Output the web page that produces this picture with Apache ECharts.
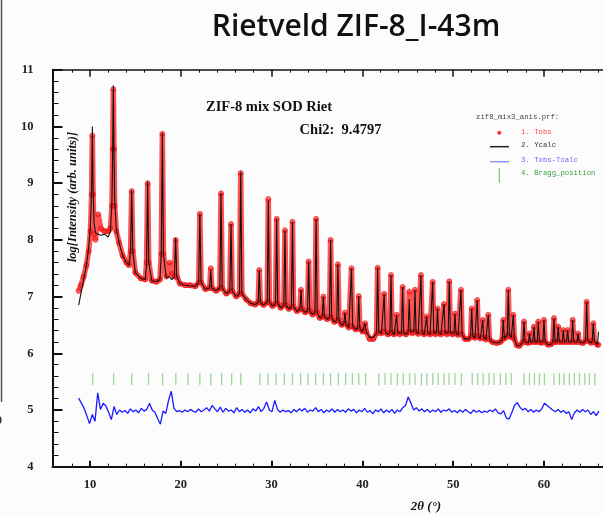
<!DOCTYPE html>
<html><head><meta charset="utf-8">
<script src="https://cdn.jsdelivr.net/npm/echarts@6/dist/echarts.min.js"></script>
<style>html,body{margin:0;padding:0;background:#fcfcfd;}#c{width:603px;height:515px;}</style>
</head><body><div id="c"></div>
<script>
// ---- data ----
const twoTheta = [
 8.75, 9.0, 9.3, 9.6, 9.85, 10.05, 10.18, 10.26, 10.34, 10.45, 10.6, 10.9, 11.2, 11.6, 12.0, 12.25, 12.42, 12.5, 12.57, 12.64, 12.72, 12.9,
 13.2, 13.6, 14.0, 14.3, 14.47, 14.59, 14.71, 15.0, 15.6, 16.1, 16.23, 16.35, 16.47, 16.8, 17.3, 17.7, 17.85, 17.97, 18.09, 18.4, 18.75, 19.0, 19.3, 19.43, 19.56, 19.9,
 20.5, 21.0, 21.6, 21.97, 22.1, 22.23, 22.7, 23.18, 23.3, 23.42, 23.9, 24.3, 24.43, 24.56, 25.0, 25.4, 25.53, 25.66, 26.1, 26.47, 26.6, 26.73, 27.2, 27.7, 28.2,
 28.52, 28.64, 28.76, 29.1, 29.52, 29.64, 29.76, 30.1, 30.44, 30.56, 30.68, 31.0, 31.35, 31.47, 31.59, 31.9, 32.18, 32.3, 32.42, 32.8,
 33.12, 33.24, 33.36, 33.7, 33.96, 34.08, 34.2, 34.5, 34.78, 34.9, 35.02, 35.3, 35.58, 35.7, 35.82, 36.1, 36.38, 36.5, 36.62, 36.9,
 37.18, 37.3, 37.42, 37.7, 37.96, 38.08, 38.2, 38.5, 38.68, 38.8, 38.92, 39.25, 39.48, 39.6, 39.72, 40.0, 40.18, 40.3, 40.42, 40.8,
 41.2, 41.56, 41.68, 41.8, 42.1, 42.28, 42.4, 42.52, 42.8, 43.03, 43.15, 43.27, 43.5, 43.65, 43.77, 43.89, 44.1, 44.31, 44.43, 44.55, 44.8,
 45.04, 45.16, 45.28, 45.5, 45.67, 45.79, 45.91, 46.15, 46.33, 46.45, 46.57, 46.8, 46.96, 47.08, 47.2, 47.45, 47.62, 47.74, 47.86, 48.05,
 48.15, 48.27, 48.39, 48.65, 48.87, 48.99, 49.11, 49.3, 49.45, 49.57, 49.69, 49.9, 50.08, 50.2, 50.32, 50.55, 50.74, 50.86, 50.98, 51.3, 51.7,
 51.92, 52.04, 52.16, 52.4, 52.53, 52.65, 52.77, 53.0, 53.13, 53.25,
 53.37, 53.6, 53.75, 53.87, 53.99, 54.3, 54.8, 55.2, 55.4, 55.52,
 55.64, 55.85, 55.95, 56.07, 56.19, 56.4, 56.5, 56.62, 56.74, 57.0,
 57.3, 57.68, 57.8, 57.92, 58.28, 58.4, 58.52, 58.78, 58.9, 59.02,
 59.25, 59.37, 59.49, 59.7, 59.88, 60.0, 60.12, 60.45, 60.8, 60.98,
 61.1, 61.22, 61.45, 61.57, 61.69, 62.01, 62.13, 62.25, 62.48, 62.6,
 62.72, 63.04, 63.16, 63.28, 63.64, 63.76, 63.88, 64.3, 64.58, 64.7,
 64.82, 65.2, 65.31, 65.43, 65.55, 65.9, 66.0
];
const yCalc = [
 6.85, 7.05, 7.3, 7.55, 7.85, 8.25, 8.9, 10.0, 8.9, 8.3, 8.12, 8.1, 8.08, 8.1, 8.05, 8.15, 8.7, 9.6, 10.72, 9.6, 8.7, 8.2,
 7.95, 7.72, 7.6, 7.55, 7.8, 8.88, 7.8, 7.42, 7.32, 7.3, 7.6, 9.03, 7.6, 7.28, 7.26, 7.3, 7.75, 9.89, 7.75, 7.33, 7.35, 7.3, 7.35, 8.03, 7.35, 7.23,
 7.2, 7.19, 7.18, 7.25, 8.46, 7.25, 7.13, 7.15, 7.47, 7.15, 7.1, 7.15, 8.82, 7.15, 7.05, 7.1, 8.28, 7.1, 7.0, 7.05, 9.2, 7.05, 6.95, 6.88, 6.86,
 6.9, 7.47, 6.9, 6.85, 6.9, 8.69, 6.9, 6.83, 6.88, 8.37, 6.88, 6.8, 6.85, 8.17, 6.85, 6.78, 6.82, 8.32, 6.82, 6.74,
 6.78, 7.12, 6.78, 6.72, 6.75, 7.62, 6.75, 6.68, 6.72, 8.37, 6.72, 6.62, 6.65, 7.0, 6.65, 6.6, 6.63, 8.0, 6.63, 6.55,
 6.58, 7.57, 6.58, 6.5, 6.52, 6.72, 6.52, 6.45, 6.48, 7.5, 6.48, 6.42, 6.44, 7.01, 6.44, 6.38, 6.4, 6.53, 6.38, 6.28,
 6.28, 6.35, 7.51, 6.38, 6.35, 6.38, 7.05, 6.38, 6.33, 6.36, 7.38, 6.36, 6.33, 6.36, 6.68, 6.36, 6.33, 6.36, 7.17, 6.36, 6.33,
 6.38, 6.95, 6.38, 6.35, 6.38, 7.12, 6.38, 6.34, 6.37, 7.38, 6.37, 6.33, 6.36, 6.65, 6.36, 6.33, 6.36, 7.26, 6.36, 6.33,
 6.36, 6.79, 6.36, 6.33, 6.36, 6.87, 6.36, 6.33, 6.36, 7.27, 6.36, 6.33, 6.35, 6.7, 6.35, 6.32, 6.35, 7.12, 6.33, 6.25, 6.25,
 6.3, 6.79, 6.3, 6.27, 6.3, 6.94, 6.3, 6.26, 6.28, 6.59,
 6.28, 6.24, 6.27, 6.68, 6.25, 6.2, 6.18, 6.2, 6.24, 6.59,
 6.26, 6.28, 6.32, 7.12, 6.32, 6.28, 6.3, 6.68, 6.25, 6.14,
 6.13, 6.2, 6.56, 6.2, 6.18, 6.35, 6.2, 6.2, 6.47, 6.2,
 6.2, 6.56, 6.2, 6.18, 6.2, 6.59, 6.2, 6.15, 6.16, 6.2,
 6.62, 6.2, 6.2, 6.47, 6.2, 6.2, 6.41, 6.2, 6.2, 6.41,
 6.2, 6.2, 6.59, 6.2, 6.2, 6.35, 6.2, 6.18, 6.22, 6.91,
 6.22, 6.18, 6.22, 6.53, 6.2, 6.15, 6.38
];
const yObs = [
 7.1, 7.2, 7.35, 7.55, 7.8, 8.15, 8.8, 9.84, 8.8, 8.1, 8.0, 8.45, 8.2, 8.15, 8.15, 8.2, 8.6, 9.6, 10.66, 9.6, 8.6, 8.15,
 7.95, 7.72, 7.6, 7.55, 7.8, 8.86, 7.8, 7.42, 7.32, 7.3, 7.6, 9.0, 7.6, 7.28, 7.26, 7.3, 7.75, 9.87, 7.75, 7.35, 7.6, 7.4, 7.35, 8.0, 7.35, 7.23,
 7.2, 7.2, 7.18, 7.25, 8.46, 7.25, 7.13, 7.15, 7.5, 7.15, 7.1, 7.15, 8.82, 7.15, 7.05, 7.1, 8.28, 7.1, 7.0, 7.05, 9.18, 7.05, 6.95, 6.88, 6.86,
 6.9, 7.47, 6.9, 6.85, 6.9, 8.72, 6.9, 6.83, 6.88, 8.37, 6.88, 6.8, 6.85, 8.17, 6.85, 6.78, 6.82, 8.32, 6.82, 6.74,
 6.78, 7.12, 6.78, 6.72, 6.75, 7.62, 6.75, 6.68, 6.72, 8.37, 6.72, 6.62, 6.65, 7.0, 6.65, 6.6, 6.63, 8.0, 6.63, 6.55,
 6.58, 7.57, 6.58, 6.5, 6.52, 6.72, 6.52, 6.45, 6.48, 7.5, 6.48, 6.42, 6.44, 7.01, 6.44, 6.38, 6.4, 6.53, 6.38, 6.25,
 6.25, 6.35, 7.51, 6.38, 6.35, 6.38, 7.05, 6.38, 6.33, 6.36, 7.38, 6.36, 6.33, 6.36, 6.68, 6.36, 6.33, 6.36, 7.17, 6.36, 6.33,
 6.38, 7.09, 6.38, 6.35, 6.38, 7.12, 6.38, 6.34, 6.37, 7.38, 6.37, 6.33, 6.36, 6.65, 6.36, 6.33, 6.36, 7.26, 6.36, 6.33,
 6.36, 6.79, 6.36, 6.33, 6.36, 6.87, 6.36, 6.33, 6.36, 7.27, 6.36, 6.33, 6.35, 6.7, 6.35, 6.32, 6.35, 7.12, 6.33, 6.25, 6.25,
 6.3, 6.79, 6.3, 6.27, 6.3, 6.94, 6.3, 6.26, 6.28, 6.59,
 6.28, 6.24, 6.27, 6.68, 6.25, 6.2, 6.18, 6.2, 6.24, 6.59,
 6.26, 6.28, 6.32, 7.12, 6.32, 6.28, 6.3, 6.68, 6.25, 6.14,
 6.13, 6.2, 6.56, 6.2, 6.18, 6.35, 6.2, 6.2, 6.47, 6.2,
 6.2, 6.56, 6.2, 6.18, 6.2, 6.59, 6.2, 6.15, 6.16, 6.2,
 6.62, 6.2, 6.2, 6.47, 6.2, 6.2, 6.41, 6.2, 6.2, 6.41,
 6.2, 6.2, 6.59, 6.2, 6.2, 6.35, 6.2, 6.18, 6.22, 6.91,
 6.22, 6.18, 6.22, 6.53, 6.2, 6.15, 6.15
];
// difference curve Tobs-Tcalc, sampled every 0.3 deg from 8.75
const diffStart = 8.75, diffStep = 0.3;
const diffY = [
 5.21, 5.12, 5.03, 4.9, 4.76, 4.92, 4.8, 5.3, 5.01, 5.12,
 5.07, 4.96, 4.83, 5.06, 4.92, 5.0, 4.96, 4.99, 4.94, 5.02,
 4.97, 5.0, 4.95, 5.03, 4.98, 5.01, 5.12, 5.0, 4.96, 4.85,
 4.75, 4.98, 4.94, 5.17, 5.33, 5.03, 4.97, 4.99, 4.96, 5.0,
 4.97, 5.01, 4.98, 4.96, 5.02, 4.97, 5.0, 5.04, 4.98, 5.08,
 5.02, 4.97, 5.05, 4.96, 5.03, 4.98, 5.0, 4.95, 5.04, 4.97,
 5.01, 4.96, 5.0, 4.95, 5.02, 4.98, 5.06, 4.97, 5.03, 5.14,
 5.0, 4.97, 5.17, 5.01, 4.96, 5.0, 4.97, 4.99, 4.95, 5.01,
 4.97, 5.02, 4.98, 5.03, 4.96, 5.0, 4.98, 5.04, 4.97, 5.01,
 4.95, 5.0, 4.97, 5.02, 4.96, 5.01, 4.97, 5.0, 4.96, 5.02,
 4.98, 5.01, 4.95, 5.0, 4.97, 5.03, 4.96, 4.99, 4.93, 5.0,
 4.97, 5.02, 4.95, 5.0, 4.96, 5.01, 4.94, 5.0, 4.97, 5.04,
 5.08, 5.23, 5.12, 5.0, 5.04, 4.98, 5.02, 4.97, 5.01, 4.96,
 5.0, 4.97, 5.02, 4.96, 5.0, 4.98, 5.02, 4.96, 4.99, 4.95,
 5.0, 4.96, 5.01, 4.97, 4.94, 5.0, 4.96, 4.99, 4.95, 4.98,
 4.96, 5.0, 4.97, 5.02, 4.95, 4.93, 4.99, 4.86, 4.84, 4.95,
 5.08, 5.13, 5.05, 5.0, 5.03, 4.97, 5.01, 4.96, 5.0, 4.97,
 5.02, 5.12, 5.08, 5.04, 5.0, 4.97, 5.01, 4.96, 4.99, 4.94,
 4.97, 4.83, 4.95, 5.0, 4.96, 5.01, 4.97, 5.0, 4.92, 4.97,
 4.9, 4.98
];
const braggPos = [
 10.3, 12.6, 14.6, 16.45, 18.0, 19.45, 20.8, 22.1, 23.3, 24.5, 25.6, 26.6,
 28.7, 29.6, 30.5, 31.4, 32.3, 33.2, 34.0, 34.85, 35.7, 36.5, 37.35, 38.15, 38.9, 39.6, 40.35,
 41.8, 42.5, 43.15, 43.85, 44.5, 45.2, 45.8, 46.5, 47.1, 47.75, 48.35, 49.0, 49.55, 50.2, 50.9,
 52.1, 52.7, 53.3, 53.95, 54.5, 55.2, 55.8, 56.4,
 57.8, 58.4, 58.95, 59.5, 60.05,
 61.1, 61.7, 62.2, 62.8, 63.35, 63.9, 64.5, 65.0, 65.6
];
const braggLevel = 5.545;
const xMajorTicks = [10, 20, 30, 40, 50, 60];
const xMinorTicks = [8, 12, 14, 16, 18, 22, 24, 26, 28, 32, 34, 36, 38, 42, 44, 46, 48, 52, 54, 56, 58, 62, 64, 66];
const X_MIN = 5.87, X_MAX = 66.5, Y_MIN = 4, Y_MAX = 11;

// ---- chart ----
const n = Math.min(twoTheta.length, yCalc.length, yObs.length);
const obsData = [], calcData = [];
for (let i = 0; i < n; i++) { obsData.push([twoTheta[i], yObs[i]]); calcData.push([twoTheta[i], yCalc[i]]); }
const diffData = diffY.map((y, i) => [+(diffStart + i * diffStep).toFixed(2), y]);
const braggData = braggPos.map(x => [x, braggLevel]);

const serif = '"Liberation Serif","Times New Roman",serif';
const mono = '"Liberation Mono","DejaVu Sans Mono",monospace';
const axisCol = '#111';
function xAx(pos, ticks, len, w, showLabel, showLine) {
  return {
    type: 'value', min: X_MIN, max: X_MAX, position: pos,
    axisLine: { show: showLine, onZero: false, lineStyle: { color: axisCol, width: pos === 'top' ? 1.5 : 2 } },
    axisTick: { show: true, inside: true, length: len, customValues: ticks, lineStyle: { color: axisCol, width: w } },
    axisLabel: showLabel ? { show: true, customValues: ticks, fontFamily: serif, fontWeight: 'bold', fontSize: 12.5, color: '#222', margin: 12 } : { show: false },
    splitLine: { show: false }
  };
}
const chart = echarts.init(document.getElementById('c'), null, { renderer: 'canvas' });
chart.setOption({
  backgroundColor: '#fcfcfd',
  animation: false,
  grid: { left: 52.5, right: 0, top: 69.7, bottom: 48.3, containLabel: false },
  xAxis: [
    xAx('bottom', xMajorTicks, 6, 2, true, true),
    xAx('bottom', xMinorTicks, 3, 1, false, false),
    xAx('top', xMajorTicks, 7, 1.5, false, true),
    xAx('top', xMinorTicks, 3, 1, false, false)
  ],
  yAxis: {
    type: 'value', min: Y_MIN, max: Y_MAX, interval: 1,
    axisLine: { show: true, onZero: false, lineStyle: { color: axisCol, width: 2 } },
    axisTick: { show: true, inside: true, length: 10, lineStyle: { color: axisCol, width: 2 } },
    minorTick: { show: true, splitNumber: 5, length: 6, lineStyle: { color: axisCol, width: 1 } },
    axisLabel: { fontFamily: serif, fontWeight: 'bold', fontSize: 12.5, color: '#222', margin: 19 },
    splitLine: { show: false }, minorSplitLine: { show: false }
  },
  series: [
    { type: 'line', name: 'Tobs', data: obsData, z: 2, silent: true,
      showSymbol: true, symbol: 'circle', symbolSize: 5,
      itemStyle: { color: 'rgba(255,35,35,0.7)', borderColor: 'rgba(220,0,0,0.8)', borderWidth: 0.6 },
      lineStyle: { color: 'rgba(255,45,45,0.82)', width: 5.5 } },
    { type: 'line', name: 'Ycalc', data: calcData, z: 3, silent: true, showSymbol: false,
      lineStyle: { color: '#111', width: 1.1 } },
    { type: 'line', name: 'Tobs-Tcalc', data: diffData, z: 3, silent: true, showSymbol: false,
      lineStyle: { color: '#1a1aff', width: 1.3 } },
    { type: 'scatter', name: 'Bragg_position', data: braggData, z: 3, silent: true,
      symbol: 'rect', symbolSize: [1.3, 12], itemStyle: { color: '#86cc86' } }
  ],
  graphic: [
    { type: 'text', x: 356, y: 27, style: { text: 'Rietveld ZIF-8_I-43m', font: '600 30px "Open Sans"', fill: '#111', textAlign: 'center', textVerticalAlign: 'middle' } },
    { type: 'text', x: 269, y: 107.5, style: { text: 'ZIF-8 mix SOD Riet', font: 'bold 14.5px ' + serif, fill: '#111', textAlign: 'center', textVerticalAlign: 'middle' } },
    { type: 'text', x: 340.5, y: 130.5, style: { text: 'Chi2:  9.4797', font: 'bold 14.5px ' + serif, fill: '#111', textAlign: 'center', textVerticalAlign: 'middle' } },
    { type: 'text', x: 72.5, y: 197, rotation: Math.PI / 2, style: { text: 'log[Intensity (arb. units)]', font: 'italic bold 12.5px ' + serif, fill: '#111', textAlign: 'center', textVerticalAlign: 'middle' } },
    { type: 'text', x: 426, y: 507, style: { text: '2θ (°)', font: 'italic bold 13px ' + serif, fill: '#111', textAlign: 'center', textVerticalAlign: 'middle' } },
    // legend block
    { type: 'text', x: 476, y: 116.7, style: { text: 'zif8_mix3_anis.prf:', font: '7.3px ' + mono, fill: '#444', textAlign: 'left', textVerticalAlign: 'middle' } },
    { type: 'circle', shape: { cx: 499.3, cy: 132.7, r: 2 }, style: { fill: '#ff3030' } },
    { type: 'text', x: 521, y: 132.5, style: { text: '1. Tobs', font: '7.3px ' + mono, fill: '#ff4a4a', textAlign: 'left', textVerticalAlign: 'middle' } },
    { type: 'line', shape: { x1: 490, y1: 146.7, x2: 509, y2: 146.7 }, style: { stroke: '#222', lineWidth: 1.5 } },
    { type: 'text', x: 521, y: 145.5, style: { text: '2. Ycalc', font: '7.3px ' + mono, fill: '#333', textAlign: 'left', textVerticalAlign: 'middle' } },
    { type: 'line', shape: { x1: 490, y1: 161.7, x2: 509, y2: 161.7 }, style: { stroke: '#7a7aff', lineWidth: 1.2 } },
    { type: 'text', x: 521, y: 160, style: { text: '3. Tobs-Tcalc', font: '7.3px ' + mono, fill: '#6a6aff', textAlign: 'left', textVerticalAlign: 'middle' } },
    { type: 'line', shape: { x1: 499.3, y1: 168, x2: 499.3, y2: 182.7 }, style: { stroke: '#66b866', lineWidth: 1 } },
    { type: 'text', x: 521, y: 173.5, style: { text: '4. Bragg_position', font: '7.3px ' + mono, fill: '#3c9a3c', textAlign: 'left', textVerticalAlign: 'middle' } },
    // screenshot edge artifacts
    { type: 'line', shape: { x1: 1.5, y1: 0, x2: 1.5, y2: 402 }, style: { stroke: '#555', lineWidth: 1.5 } },
    { type: 'text', x: -1, y: 421, style: { text: '0', font: 'bold 12px ' + serif, fill: '#333', textAlign: 'center', textVerticalAlign: 'middle' } }
  ]
});
</script>
</body></html>
